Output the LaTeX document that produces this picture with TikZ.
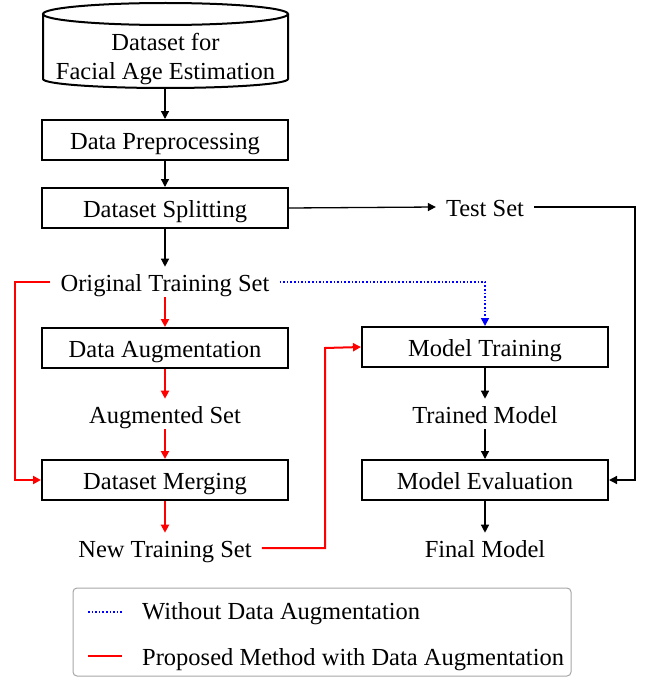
\documentclass[tikz,border=0pt]{standalone}
\usepackage{fontspec}
\setmainfont{Liberation Serif}
\usetikzlibrary{arrows.meta,shapes.geometric}
\begin{document}
\begin{tikzpicture}[x=1pt,y=-1pt,
  font=\fontsize{24.5}{29}\selectfont,
  box/.style={draw=black,line width=2pt,minimum width=246pt,minimum height=40pt,inner sep=0pt,anchor=center,text height=18.2pt,text depth=0pt},
  lbl/.style={inner sep=2pt,anchor=center,text height=18.2pt,text depth=0pt},
  arr/.style={line width=1.3pt,-{Triangle[length=8pt,width=8pt]}},
  rarr/.style={draw=red,line width=2pt,-{Triangle[length=8pt,width=8pt]}},
  barr/.style={draw=blue,line width=1.6pt,dotted,-{Triangle[length=8pt,width=8pt]}},
  rline/.style={draw=red,line width=2pt},
  bline/.style={draw=blue,line width=1.6pt,dotted}]
\useasboundingbox (0,0) rectangle (654,677);
% cylinder
\draw[line width=2pt,fill=white] (43,14) -- (43,79) arc[start angle=180,end angle=0,x radius=122.5,y radius=9] -- (288,14);
\draw[line width=2pt] (165.5,14) ellipse[x radius=122.5,y radius=11];
\node[inner sep=0pt,align=center] (ds) at (165.5,59) {Dataset for\\Facial Age Estimation};
\coordinate (dsb) at (165,88);
\node[box] (pre) at (165,140) {Data Preprocessing};
\node[box] (split) at (165,208) {Dataset Splitting};
\node[lbl] (orig) at (165,282) {Original Training Set};
\node[box] (aug) at (165,348) {Data Augmentation};
\node[lbl] (augset) at (165,414) {Augmented Set};
\node[box] (merge) at (165,480) {Dataset Merging};
\node[lbl] (newset) at (165,548) {New Training Set};
\node[lbl] (test) at (485,207) {Test Set};
\node[box] (train) at (485,347) {Model Training};
\node[lbl] (trained) at (485,414) {Trained Model};
\node[box] (eval) at (485,480) {Model Evaluation};
\node[lbl] (final) at (485,548) {Final Model};
% black arrows
\draw[arr] (dsb) -- (pre.north);
\draw[arr] (pre.south) -- (split.north);
\draw[arr] (split.south) -- ([yshift=4pt]orig.north);
\draw[arr] (split.east) -- ([xshift=-8pt]test.west);
\draw[arr] ([xshift=8pt]test.east) -- (635,207) -- (635,480) -- (eval.east);
\draw[arr] (train.south) -- ([yshift=4pt]trained.north);
\draw[arr] ([yshift=-4pt]trained.south) -- (eval.north);
\draw[arr] (eval.south) -- ([yshift=4pt]final.north);
% red arrows
\draw[rarr] ([yshift=-4pt]orig.south) -- (aug.north);
\draw[rarr] (aug.south) -- ([yshift=4pt]augset.north);
\draw[rarr] ([yshift=-4pt]augset.south) -- (merge.north);
\draw[rarr] (merge.south) -- ([yshift=4pt]newset.north);
\draw[rarr] ([xshift=-8pt]orig.west) -- (15,282) -- (15,480) -- (merge.west);
\draw[rarr] ([xshift=8pt]newset.east) -- (325,548) -- (325,348) -- (train.west);
% blue dotted
\draw[barr] ([xshift=8pt]orig.east) -- (485,282) -- (train.north);
% legend
\node[draw=gray!70,line width=1pt,rounded corners=4pt,minimum width=498pt,minimum height=88pt,inner sep=0pt] (leg) at (322,632) {};
\coordinate (l1a) at (88,612);
\coordinate (l1b) at (122,612);
\coordinate (l2a) at (88,656);
\coordinate (l2b) at (122,656);
\draw[bline] (l1a) -- (l1b);
\draw[rline] (l2a) -- (l2b);
\node[lbl,anchor=west] (t1) at (140,610) {Without Data Augmentation};
\node[lbl,anchor=west] (t2) at (140,656) {Proposed Method with Data Augmentation};
\end{tikzpicture}
\end{document}
